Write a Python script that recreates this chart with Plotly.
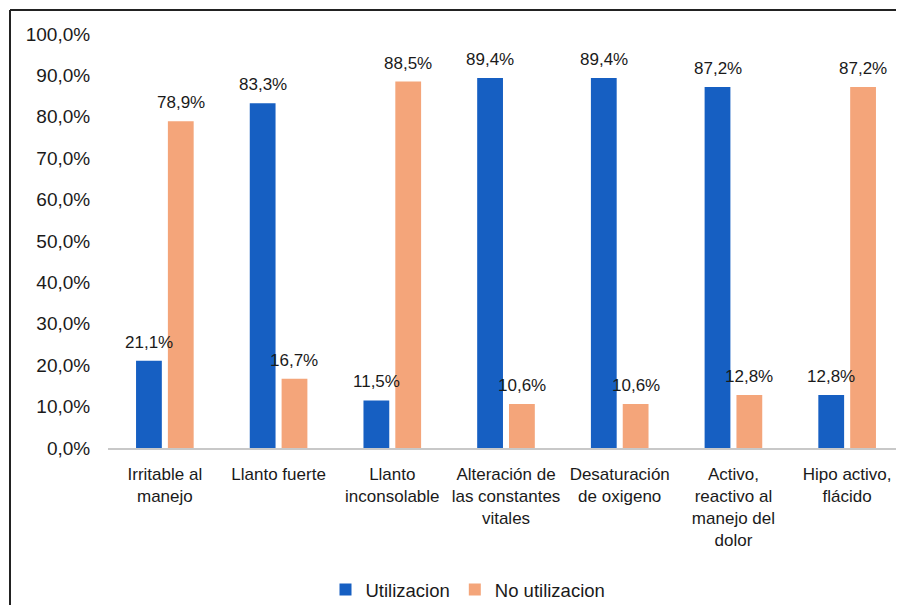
import plotly.graph_objects as go

categories = [
    "Irritable al<br>manejo",
    "Llanto fuerte",
    "Llanto<br>inconsolable",
    "Alteración de<br>las constantes<br>vitales",
    "Desaturación<br>de oxigeno",
    "Activo,<br>reactivo al<br>manejo del<br>dolor",
    "Hipo activo,<br>flácido",
]
utilizacion = [21.1, 83.3, 11.5, 89.4, 89.4, 87.2, 12.8]
no_utilizacion = [78.9, 16.7, 88.5, 10.6, 10.6, 12.8, 87.2]
y_ticks = [0, 10, 20, 30, 40, 50, 60, 70, 80, 90, 100]
y_tick_labels = [f"{v},0%" for v in y_ticks]

BLUE = "#165FC2"
ORANGE = "#F4A57A"
FONT = "Liberation Sans, Arial, sans-serif"

# page shows the figure with an 8px body offset, so the figure is sized to the visible area
W, H = 896, 597
ML, MR, MT, MB = 100, 0, 26, 157
BARGAP, BARGROUPGAP = 0.44, 0.19
plot_w = W - ML - MR
plot_h = H - MT - MB
slot = plot_w / len(categories) * (1 - BARGAP) / 2

fig = go.Figure()
series = [("Utilizacion", utilizacion, BLUE), ("No utilizacion", no_utilizacion, ORANGE)]
for k, (name, vals, col) in enumerate(series):
    fig.add_trace(go.Bar(
        name=name, x=categories, y=vals,
        marker=dict(color=col, line=dict(width=0)),
        cliponaxis=False,
    ))
    shift = (k - 0.5) * slot
    for c, v in zip(categories, vals):
        fig.add_annotation(
            x=c, y=v, xref="x", yref="y", text=f"{v:.1f}%".replace(".", ","),
            showarrow=False, xanchor="center", yanchor="bottom",
            xshift=shift, yshift=7,
            font=dict(size=17, color="#1a1a1a", family=FONT),
        )

fig.update_layout(
    width=W, height=H,
    margin=dict(l=ML, r=MR, t=MT, b=MB, autoexpand=False),
    paper_bgcolor="white", plot_bgcolor="white",
    separators=",.",
    barmode="group", bargap=BARGAP, bargroupgap=BARGROUPGAP,
    font=dict(family=FONT, color="#1a1a1a"),
    showlegend=True,
    legend=dict(
        orientation="h", xref="container", yref="container",
        x=(468 - 8) / W, xanchor="center", y=1 - (590 - 8) / H, yanchor="middle",
        font=dict(size=18.5, family=FONT, color="#1a1a1a"),
        itemwidth=30, traceorder="normal",
    ),
)
fig.update_xaxes(
    showline=True, linecolor="#c8c8c8", linewidth=1.5,
    ticks="outside", ticklen=10, tickcolor="rgba(0,0,0,0)",
    tickfont=dict(size=17, family=FONT, color="#1a1a1a"),
    tickangle=0, showgrid=False, automargin=False,
)
fig.update_yaxes(
    range=[0, 100], tickvals=y_ticks, ticktext=y_tick_labels,
    showgrid=False, showline=False, zeroline=False,
    ticks="outside", ticklen=13, tickcolor="rgba(0,0,0,0)",
    tickfont=dict(size=19, family=FONT, color="#1a1a1a"),
    automargin=False,
)
# outer frame (left and top edges visible in the reference)
fx = (2 - ML) / plot_w
fy = (plot_h + MT - 2) / plot_h
fig.add_shape(type="line", xref="paper", yref="paper",
              x0=fx, x1=fx, y0=fy, y1=-0.5,
              line=dict(color="#222", width=2))
fig.add_shape(type="line", xref="paper", yref="paper",
              x0=fx, x1=1.0, y0=fy, y1=fy,
              line=dict(color="#222", width=2))

fig.write_html("out.html", config={"displayModeBar": False})
